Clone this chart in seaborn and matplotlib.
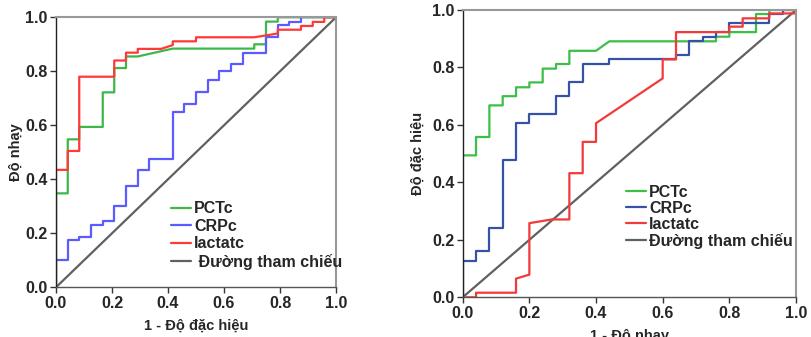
import matplotlib
matplotlib.use("Agg")
import matplotlib.pyplot as plt
import seaborn as sns
import pandas as pd

# ---------------- data ----------------
# Left panel (x: 1 - Độ đặc hiệu, y: Độ nhạy)
L_pct_x = [0, 0, 0.042, 0.042, 0.083, 0.083, 0.167, 0.167, 0.208, 0.208, 0.25, 0.25, 0.292, 0.417, 0.708, 0.708, 0.75, 0.75, 0.792, 0.792, 1.0]
L_pct_y = [0, 0.348, 0.348, 0.548, 0.548, 0.594, 0.594, 0.722, 0.722, 0.812, 0.812, 0.855, 0.855, 0.884, 0.884, 0.9, 0.9, 0.984, 0.984, 1.0, 1.0]

L_crp_x = [0, 0, 0.042, 0.042, 0.083, 0.083, 0.125, 0.125, 0.167, 0.167, 0.208, 0.208, 0.25, 0.25, 0.292, 0.292, 0.333, 0.333, 0.417, 0.417, 0.458, 0.458, 0.5, 0.5, 0.542, 0.542, 0.583, 0.583, 0.625, 0.625, 0.667, 0.667, 0.75, 0.75, 0.792, 0.792, 0.833, 0.833, 0.875, 0.875, 1.0]
L_crp_y = [0, 0.1, 0.1, 0.175, 0.175, 0.188, 0.188, 0.232, 0.232, 0.246, 0.246, 0.302, 0.302, 0.375, 0.375, 0.433, 0.433, 0.477, 0.477, 0.651, 0.651, 0.68, 0.68, 0.723, 0.723, 0.768, 0.768, 0.8, 0.8, 0.827, 0.827, 0.869, 0.869, 0.926, 0.926, 0.971, 0.971, 0.984, 0.984, 1.0, 1.0]

L_lac_x = [0, 0, 0.042, 0.042, 0.083, 0.083, 0.208, 0.208, 0.25, 0.25, 0.292, 0.292, 0.375, 0.417, 0.417, 0.5, 0.5, 0.708, 0.792, 0.792, 0.875, 0.875, 0.917, 0.917, 0.958, 0.958, 1.0]
L_lac_y = [0, 0.435, 0.435, 0.505, 0.505, 0.78, 0.78, 0.84, 0.84, 0.869, 0.869, 0.883, 0.883, 0.897, 0.911, 0.911, 0.926, 0.926, 0.94, 0.954, 0.954, 0.968, 0.968, 0.983, 0.983, 1.0, 1.0]

# Right panel (x: 1 - Độ nhạy, y: Độ đặc hiệu)
R_pct_x = [0, 0, 0.04, 0.04, 0.08, 0.08, 0.12, 0.12, 0.16, 0.16, 0.2, 0.2, 0.24, 0.24, 0.28, 0.28, 0.32, 0.32, 0.4, 0.44, 0.76, 0.76, 0.8, 0.8, 0.88, 0.88, 0.92, 0.92, 1.0]
R_pct_y = [0, 0.494, 0.494, 0.558, 0.558, 0.668, 0.668, 0.70, 0.70, 0.731, 0.731, 0.748, 0.748, 0.796, 0.796, 0.812, 0.812, 0.858, 0.858, 0.891, 0.891, 0.907, 0.907, 0.923, 0.923, 0.986, 0.986, 1.0, 1.0]

R_crp_x = [0, 0, 0.04, 0.04, 0.08, 0.08, 0.12, 0.12, 0.16, 0.16, 0.2, 0.2, 0.28, 0.28, 0.32, 0.32, 0.36, 0.36, 0.44, 0.44, 0.64, 0.64, 0.68, 0.68, 0.72, 0.72, 0.76, 0.76, 0.8, 0.8, 0.92, 0.92, 0.96, 0.96, 1.0]
R_crp_y = [0, 0.126, 0.126, 0.161, 0.161, 0.24, 0.24, 0.478, 0.478, 0.606, 0.606, 0.637, 0.637, 0.70, 0.70, 0.748, 0.748, 0.812, 0.812, 0.828, 0.828, 0.843, 0.843, 0.891, 0.891, 0.907, 0.907, 0.922, 0.922, 0.954, 0.954, 0.985, 0.985, 1.0, 1.0]

R_lac_x = [0, 0.04, 0.04, 0.16, 0.16, 0.2, 0.2, 0.267, 0.32, 0.32, 0.36, 0.36, 0.4, 0.4, 0.6, 0.6, 0.64, 0.64, 0.8, 0.8, 0.84, 0.84, 0.92, 0.92, 1.0, 1.0]
R_lac_y = [0, 0, 0.016, 0.016, 0.065, 0.079, 0.258, 0.271, 0.271, 0.432, 0.432, 0.541, 0.541, 0.606, 0.762, 0.828, 0.828, 0.923, 0.923, 0.942, 0.942, 0.971, 0.971, 0.988, 0.988, 1.0]

ref_x = [0.0, 1.0]
ref_y = [0.0, 1.0]

series_names = ["PCTc", "CRPc", "lactatc"]
ticks = [0.0, 0.2, 0.4, 0.6, 0.8, 1.0]
tick_labels = ["0.0", "0.2", "0.4", "0.6", "0.8", "1.0"]

# ---------------- style ----------------
sns.set_theme(style="white")
plt.rcParams["font.family"] = ["Liberation Sans", "DejaVu Sans"]
plt.rcParams["font.weight"] = "bold"

fig = plt.figure(figsize=(8.11, 3.37), dpi=100)
axL = fig.add_axes([56 / 811, 1 - 287.3 / 337, 280 / 811, 270 / 337])
axR = fig.add_axes([462.7 / 811, 1 - 297.3 / 337, 333.3 / 811, 287.3 / 337])


def draw(ax, data, colors, ref_label, xlabel, ylabel, leg_anchor, xlabelpad, ylabelpad, lspace):
    frames = []
    for name, (xs, ys) in zip(series_names, data):
        frames.append(pd.DataFrame({"x": xs, "y": ys, "s": name}))
    df = pd.concat(frames, ignore_index=True)
    ref = pd.DataFrame({"x": ref_x, "y": ref_y})
    sns.lineplot(data=ref, x="x", y="y", color="#606060", lw=1.6, ax=ax,
                 label=ref_label, sort=False, estimator=None)
    for name in series_names:
        sub = df[df["s"] == name]
        sns.lineplot(data=sub, x="x", y="y", color=colors[name], lw=1.6, ax=ax,
                     label=name, sort=False, estimator=None)
    ax.set_xlim(0, 1)
    ax.set_ylim(0, 1)
    ax.set_xticks(ticks)
    ax.set_xticklabels(tick_labels, fontsize=11.5, fontweight="bold")
    ax.set_yticks(ticks)
    ax.set_yticklabels(tick_labels, fontsize=11.5, fontweight="bold")
    ax.tick_params(axis="both", direction="out", length=4, width=1, color="#333333",
                   pad=2, bottom=True, left=True)
    ax.set_xlabel(xlabel, fontsize=10.5, fontweight="bold", labelpad=xlabelpad)
    ax.set_ylabel(ylabel, fontsize=10.5, fontweight="bold", labelpad=ylabelpad)
    for side in ["top", "right"]:
        ax.spines[side].set_color("#999999")
        ax.spines[side].set_linewidth(1.5)
    ax.spines["left"].set_color("#222222")
    ax.spines["bottom"].set_color("#555555")
    for side in ["left", "bottom"]:
        ax.spines[side].set_linewidth(1.0)
    handles, labels = ax.get_legend_handles_labels()
    order = [labels.index(n) for n in ["PCTc", "CRPc", "lactatc", ref_label]]
    ax.legend([handles[i] for i in order], [labels[i] for i in order],
              loc="upper left", bbox_to_anchor=leg_anchor, frameon=False,
              prop={"size": 11.5, "weight": "bold"}, handlelength=1.25,
              handletextpad=0.2, labelspacing=lspace, borderpad=0, borderaxespad=0)


draw(axL,
     [(L_pct_x, L_pct_y), (L_crp_x, L_crp_y), (L_lac_x, L_lac_y)],
     {"PCTc": "#3cb84a", "CRPc": "#5b5bff", "lactatc": "#ff3838"},
     " Đường tham chiếu", "1 - Độ đặc hiệu", "Độ nhạy", (0.41, 0.318), 6, 2, 0.15)
draw(axR,
     [(R_pct_x, R_pct_y), (R_crp_x, R_crp_y), (R_lac_x, R_lac_y)],
     {"PCTc": "#3cbf48", "CRPc": "#3552a8", "lactatc": "#f23a3a"},
     "Đường tham chiếu", "1 - Độ nhạy", "Độ đặc hiệu", (0.49, 0.392), 6, 5, 0.06)

fig.savefig("out.png", dpi=100)
